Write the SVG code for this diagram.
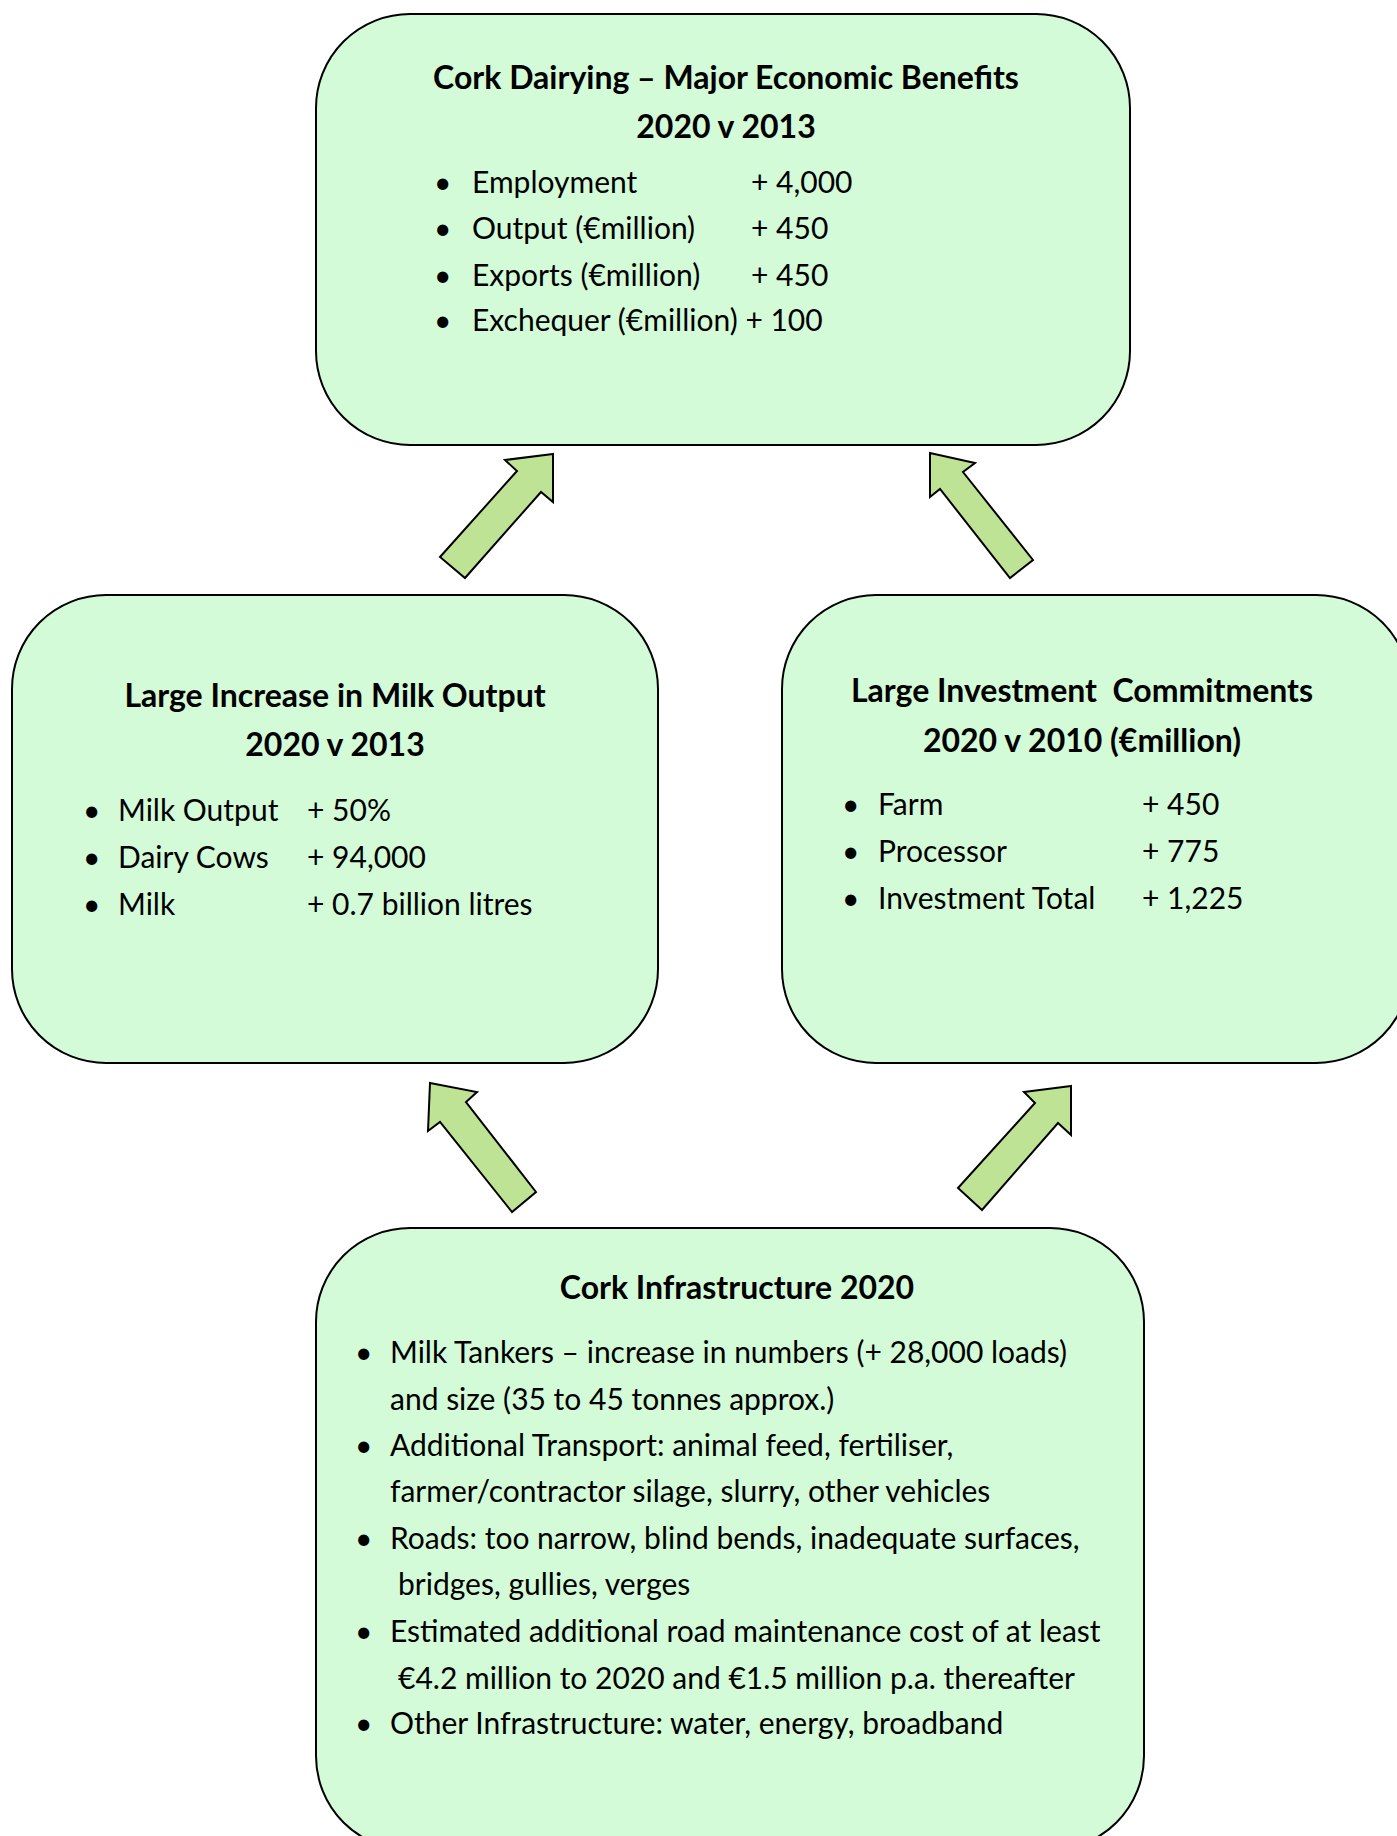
<svg xmlns="http://www.w3.org/2000/svg" width="1397" height="1836" viewBox="0 0 1397 1836">
<style>
.box{fill:#d3fbd8;stroke:#000;stroke-width:2}
.arr{fill:#bfe395;stroke:#000;stroke-width:2;stroke-linejoin:miter}
text{font-family:Lato,"Liberation Sans",sans-serif;fill:#000;font-size:30px;white-space:pre}
.t{font-weight:bold;text-anchor:middle;font-size:32px}
</style>
<rect width="1397" height="1836" fill="#fff"/>
<g id="connectors">
<polygon class="arr" points="553,454 505,460 517,471 440,557 465,578 541,492 553,502"/>
<polygon class="arr" points="930,453 975,463 963,472 1033,560 1010,578 940,489 930,497"/>
<polygon class="arr" points="430,1083 477,1092 466,1102 536,1192 512,1212 440,1122 428,1131"/>
<polygon class="arr" points="1071,1086 1024,1092 1035,1103 958,1188 982,1210 1058,1123 1071,1135"/>
</g>
<g id="benefits">
<rect class="box" x="316" y="14" width="814" height="431" rx="94" ry="94"/>
<text class="t" x="726" y="89">Cork Dairying – Major Economic Benefits</text>
<text class="t" x="726" y="138">2020 v 2013</text>
<text x="434" y="193">•</text><text x="472" y="193">Employment</text><text x="751" y="193">+ 4,000</text>
<text x="434" y="239">•</text><text x="472" y="239">Output (€million)</text><text x="751" y="239">+ 450</text>
<text x="434" y="286">•</text><text x="472" y="286">Exports (€million)</text><text x="751" y="286">+ 450</text>
<text x="434" y="331">•</text><text x="472" y="331">Exchequer (€million) + 100</text>
</g>
<g id="milk">
<rect class="box" x="12" y="595" width="646" height="468" rx="94" ry="94"/>
<text class="t" x="335" y="707">Large Increase in Milk Output</text>
<text class="t" x="335" y="756">2020 v 2013</text>
<text x="83" y="821">•</text><text x="118" y="821">Milk Output</text><text x="307" y="821">+ 50%</text>
<text x="83" y="868">•</text><text x="118" y="868">Dairy Cows</text><text x="307" y="868">+ 94,000</text>
<text x="83" y="915">•</text><text x="118" y="915">Milk</text><text x="307" y="915">+ 0.7 billion litres</text>
</g>
<g id="investment">
<rect class="box" x="782" y="595" width="628" height="468" rx="94" ry="94"/>
<text class="t" x="1082" y="702">Large Investment  Commitments</text>
<text class="t" x="1082" y="752">2020 v 2010 (€million)</text>
<text x="842" y="815">•</text><text x="878" y="815">Farm</text><text x="1142" y="815">+ 450</text>
<text x="842" y="862">•</text><text x="878" y="862">Processor</text><text x="1142" y="862">+ 775</text>
<text x="842" y="909">•</text><text x="878" y="909">Investment Total</text><text x="1142" y="909">+ 1,225</text>
</g>
<g id="infrastructure">
<rect class="box" x="316" y="1228" width="828" height="622" rx="94" ry="94"/>
<text class="t" x="737" y="1299">Cork Infrastructure 2020</text>
<text x="355" y="1363">•</text><text x="390" y="1363">Milk Tankers – increase in numbers (+ 28,000 loads)</text>
<text x="390" y="1410">and size (35 to 45 tonnes approx.)</text>
<text x="355" y="1456">•</text><text x="390" y="1456">Additional Transport: animal feed, fertiliser,</text>
<text x="390" y="1502">farmer/contractor silage, slurry, other vehicles</text>
<text x="355" y="1549">•</text><text x="390" y="1549">Roads: too narrow, blind bends, inadequate surfaces,</text>
<text x="398" y="1595">bridges, gullies, verges</text>
<text x="355" y="1642">•</text><text x="390" y="1642">Estimated additional road maintenance cost of at least</text>
<text x="398" y="1689">€4.2 million to 2020 and €1.5 million p.a. thereafter</text>
<text x="355" y="1734">•</text><text x="390" y="1734">Other Infrastructure: water, energy, broadband</text>
</g>
</svg>
